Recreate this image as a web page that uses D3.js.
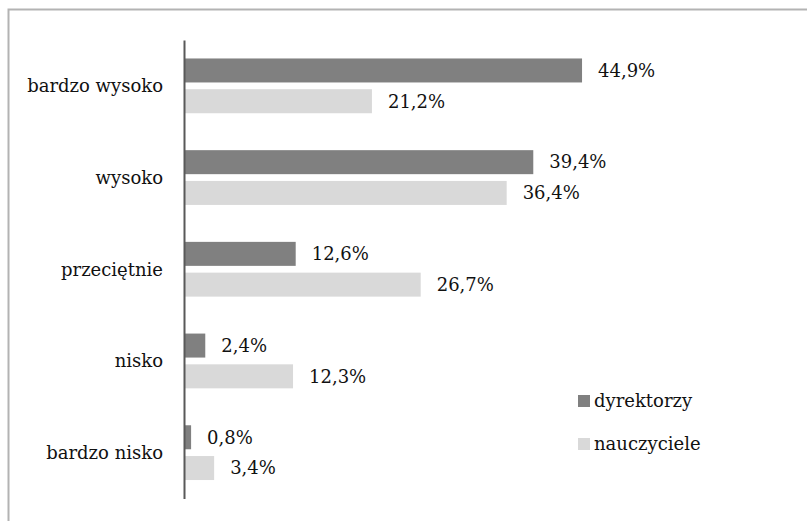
<!DOCTYPE html>
<html><head><meta charset="utf-8">
<script src="https://cdn.jsdelivr.net/npm/d3@7"></script>
<style>body{margin:0;background:#fff}svg{display:block}</style>
</head><body>
<svg id="c" width="807" height="521"></svg>
<script>
const categories = ["bardzo wysoko", "wysoko", "przeciętnie", "nisko", "bardzo nisko"];
const seriesNames = ["dyrektorzy", "nauczyciele"];
const dyrektorzy = [44.9, 39.4, 12.6, 2.4, 0.8];
const nauczyciele = [21.2, 36.4, 26.7, 12.3, 3.4];
const seriesColors = ["#808080", "#d9d9d9"];

const svg = d3.select("#c");
const font = "'DejaVu Serif', serif";
const fs = 18;

svg.append("rect").attr("x", 8.5).attr("y", 9.5).attr("width", 820).attr("height", 540)
  .attr("fill", "none").attr("stroke", "#b3b3b3").attr("stroke-width", 2);

const x = d3.scaleLinear().domain([0, 50]).range([184, 184 + 50 * 8.865]);
const y = d3.scaleBand().domain(categories).range([40, 498.5]).paddingInner(0).paddingOuter(0);
const yi = d3.scaleBand().domain(seriesNames).range([0, y.bandwidth()]).paddingInner(0.22).paddingOuter(0.6);

const data = [];
categories.forEach((c, i) => {
  data.push({cat: c, s: seriesNames[0], v: dyrektorzy[i], col: seriesColors[0]});
  data.push({cat: c, s: seriesNames[1], v: nauczyciele[i], col: seriesColors[1]});
});

const g = svg.append("g");
g.selectAll("rect.bar").data(data).join("rect").attr("class", "bar")
  .attr("x", x(0)).attr("y", d => y(d.cat) + yi(d.s))
  .attr("width", d => x(d.v) - x(0)).attr("height", yi.bandwidth())
  .attr("fill", d => d.col);

g.selectAll("text.val").data(data).join("text").attr("class", "val")
  .attr("x", d => x(d.v) + 16).attr("y", d => y(d.cat) + yi(d.s) + yi.bandwidth() / 2)
  .attr("dy", "0.35em").attr("font-family", font).attr("font-size", fs).attr("fill", "#111")
  .text(d => d.v.toFixed(1).replace(".", ",") + "%");

const yAxis = d3.axisLeft(y).tickSize(0).tickPadding(21);
const ag = svg.append("g").attr("transform", `translate(${x(0)},0)`).call(yAxis);
ag.select(".domain").attr("stroke", "#595959").attr("stroke-width", 2);
ag.selectAll("text").attr("font-family", font).attr("font-size", fs).attr("fill", "#111")
  .attr("dy", "0.35em").attr("y", 0);

const lg = svg.append("g");
seriesNames.forEach((s, i) => {
  const yy = 395 + i * 43;
  lg.append("rect").attr("x", 578).attr("y", yy).attr("width", 12).attr("height", 12).attr("fill", seriesColors[i]);
  lg.append("text").attr("x", 594).attr("y", yy + 6).attr("dy", "0.35em")
    .attr("font-family", font).attr("font-size", fs).attr("fill", "#111").text(s);
});
</script>
</body></html>
